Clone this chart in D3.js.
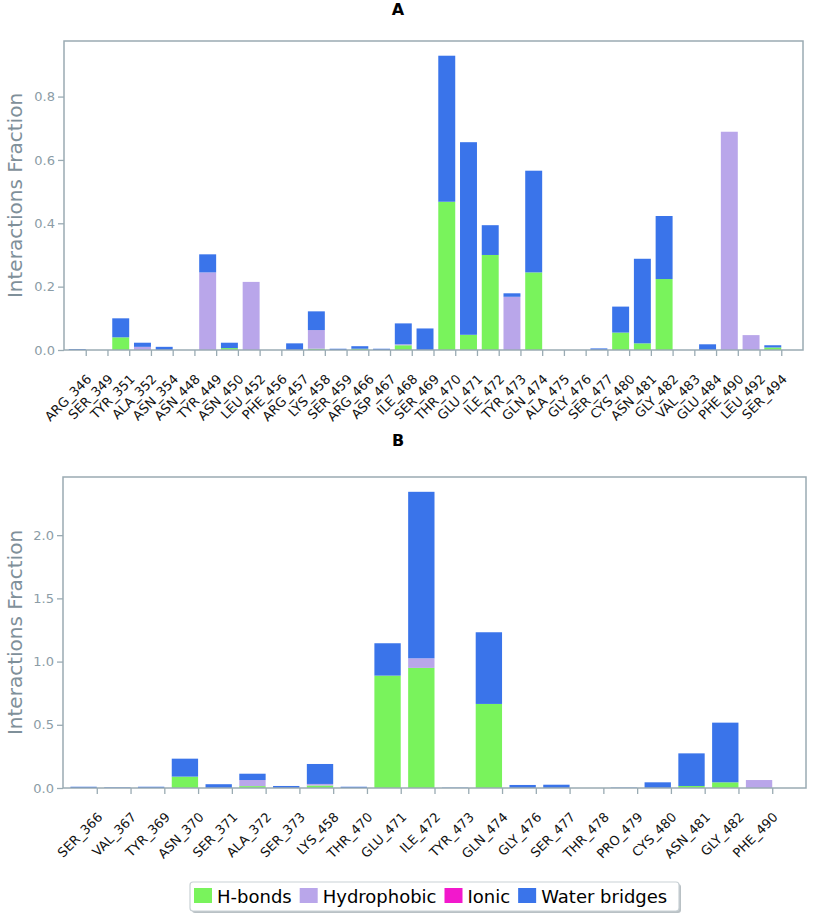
<!DOCTYPE html>
<html>
<head>
<meta charset="utf-8">
<script src="https://cdn.jsdelivr.net/npm/d3@7"></script>
<style>
  html, body { margin: 0; padding: 0; background: #fff; }
  svg { display: block; font-family: "DejaVu Sans", sans-serif; }
</style>
</head>
<body>
<svg id="chart" width="813" height="917"></svg>
<script>
// ---------- Data ----------
const seriesNames = ["H-bonds", "Hydrophobic", "Ionic", "Water bridges"];
const seriesColors = ["#79f35c", "#b9a6ea", "#f218cc", "#3a74ea"];

// Panel A
const residuesA = ["ARG_346","SER_349","TYR_351","ALA_352","ASN_354","ASN_448","TYR_449","ASN_450","LEU_452","PHE_456","ARG_457","LYS_458","SER_459","ARG_466","ASP_467","ILE_468","SER_469","THR_470","GLU_471","ILE_472","TYR_473","GLN_474","ALA_475","GLY_476","SER_477","CYS_480","ASN_481","GLY_482","VAL_483","GLU_484","PHE_490","LEU_492","SER_494"];
const hbondsA      = [0,0,0.040,0,0,0,0,0.006,0,0,0,0.004,0,0.004,0,0.015,0,0.468,0.048,0.300,0,0.245,0,0,0,0.055,0.021,0.224,0,0,0,0,0.008];
const hydrophobicA = [0,0,0,0.010,0,0,0.245,0,0.215,0,0,0.059,0,0,0,0.003,0,0,0,0,0.168,0,0,0,0,0,0,0,0,0,0.689,0.047,0];
const ionicA       = [0,0,0,0,0,0,0,0,0,0,0,0,0,0,0,0,0,0,0,0,0,0,0,0,0,0,0,0,0,0,0,0,0];
const waterA       = [0.003,0,0.060,0.013,0.010,0,0.057,0.017,0,0,0.021,0.059,0.004,0.008,0.004,0.066,0.068,0.461,0.608,0.094,0.011,0.321,0,0,0.005,0.082,0.267,0.199,0,0.018,0,0,0.007];
const yTicksA = [0, 0.2, 0.4, 0.6, 0.8];

// Panel B
const residuesB = ["SER_366","VAL_367","TYR_369","ASN_370","SER_371","ALA_372","SER_373","LYS_458","THR_470","GLU_471","ILE_472","TYR_473","GLN_474","GLY_476","SER_477","THR_478","PRO_479","CYS_480","ASN_481","GLY_482","PHE_490"];
const hbondsB      = [0,0,0,0.090,0,0.015,0,0.020,0,0.889,0.950,0,0.665,0,0,0,0,0,0.016,0.045,0];
const hydrophobicB = [0,0,0,0,0,0.048,0,0.012,0,0,0.076,0,0,0,0,0,0,0,0,0,0.063];
const ionicB       = [0,0,0,0,0,0,0,0,0,0,0,0,0,0,0,0,0,0,0,0,0];
const waterB       = [0.010,0.005,0.010,0.142,0.030,0.050,0.016,0.158,0.010,0.256,1.317,0.003,0.567,0.024,0.026,0,0.003,0.045,0.258,0.472,0];
const yTicksB = [0, 0.5, 1.0, 1.5, 2.0];

// ---------- Drawing ----------
const svg = d3.select("#chart");
svg.append("rect").attr("width", 813).attr("height", 917).attr("fill", "#fff");

const frameColor = "#9aabb3";
const tickTextColor = "#8b9ca6";
const titleColor = "#7f909a";

function panel(cfg) {
  const { residues, cols, yTicks, left, right, top, bottom, title, titleY } = cfg;
  const rows = residues.map((r, i) => ({
    res: r, i,
    "H-bonds": cols[0][i], "Hydrophobic": cols[1][i], "Ionic": cols[2][i], "Water bridges": cols[3][i]
  }));
  const stacked = d3.stack().keys(seriesNames)(rows);
  const maxTotal = d3.max(rows, d => seriesNames.reduce((s, k) => s + d[k], 0));

  const x = d3.scaleLinear().domain([-1, residues.length]).range([left, right]);
  const y = d3.scaleLinear().domain([0, maxTotal * 1.05]).range([bottom, top]);
  const barW = 0.78;

  const g = svg.append("g");

  // bars
  stacked.forEach((layer, si) => {
    g.append("g").selectAll("rect").data(layer).join("rect")
      .attr("x", d => x(d.data.i - barW))
      .attr("width", d => x(barW) - x(0))
      .attr("y", d => y(d[1]))
      .attr("height", d => Math.max(0, y(d[0]) - y(d[1])))
      .attr("fill", seriesColors[si]);
  });

  // frame
  g.append("rect")
    .attr("x", left).attr("y", top)
    .attr("width", right - left).attr("height", bottom - top)
    .attr("fill", "none").attr("stroke", frameColor).attr("stroke-width", 1.5);

  // y axis
  const yAxis = d3.axisLeft(y).tickValues(yTicks).tickFormat(d3.format(".1f")).tickSize(6).tickPadding(3);
  const ya = g.append("g").attr("transform", `translate(${left},0)`).call(yAxis);
  ya.select(".domain").remove();
  ya.selectAll(".tick line").attr("stroke", frameColor).attr("stroke-width", 1.3);
  ya.selectAll(".tick text").attr("fill", tickTextColor).style("font-size", "13px")
    .style("font-family", "DejaVu Sans, sans-serif");

  // x axis
  const xAxis = d3.axisBottom(x).tickValues(d3.range(residues.length))
    .tickFormat(i => residues[i]).tickSize(6);
  const xa = g.append("g").attr("transform", `translate(0,${bottom})`).call(xAxis);
  xa.select(".domain").remove();
  xa.selectAll(".tick line").attr("stroke", frameColor).attr("stroke-width", 1.3);
  xa.selectAll(".tick text")
    .attr("fill", "#111")
    .style("font-size", "13px")
    .style("font-family", "DejaVu Sans, sans-serif")
    .attr("text-anchor", "end")
    .attr("dy", null)
    .attr("y", 0)
    .attr("transform", "translate(6,30) rotate(-45)");

  // y title
  g.append("text")
    .attr("transform", `translate(22,${(top + bottom) / 2}) rotate(-90)`)
    .attr("text-anchor", "middle")
    .attr("fill", titleColor)
    .style("font-size", "20px")
    .text("Interactions Fraction");

  // panel title
  g.append("text")
    .attr("x", 398).attr("y", titleY)
    .attr("text-anchor", "middle")
    .style("font-size", "16px").style("font-weight", "bold")
    .attr("fill", "#000")
    .text(title);
}

panel({
  residues: residuesA, cols: [hbondsA, hydrophobicA, ionicA, waterA], yTicks: yTicksA,
  left: 64, right: 803, top: 41, bottom: 350, title: "A", titleY: 15
});
panel({
  residues: residuesB, cols: [hbondsB, hydrophobicB, ionicB, waterB], yTicks: yTicksB,
  left: 63, right: 806, top: 477, bottom: 788, title: "B", titleY: 446
});

// ---------- Legend ----------
const lg = svg.append("g");
const lx = 190, ly = 882, lw = 489, lh = 29;
lg.append("rect").attr("x", lx + 2).attr("y", ly + 2).attr("width", lw).attr("height", lh)
  .attr("rx", 3).attr("fill", "#b9c1c5");
lg.append("rect").attr("x", lx).attr("y", ly).attr("width", lw).attr("height", lh)
  .attr("rx", 3).attr("fill", "#fff").attr("stroke", "#c9d1d5").attr("stroke-width", 1.2);
let cx = lx + 4;
seriesNames.forEach((name, i) => {
  lg.append("rect").attr("x", cx).attr("y", ly + 6).attr("width", 18).attr("height", 15)
    .attr("fill", seriesColors[i]);
  const t = lg.append("text").attr("x", cx + 23).attr("y", ly + 21)
    .style("font-size", "18px").attr("fill", "#000").text(name);
  cx += 23 + t.node().getComputedTextLength() + 8;
});
</script>
</body>
</html>
